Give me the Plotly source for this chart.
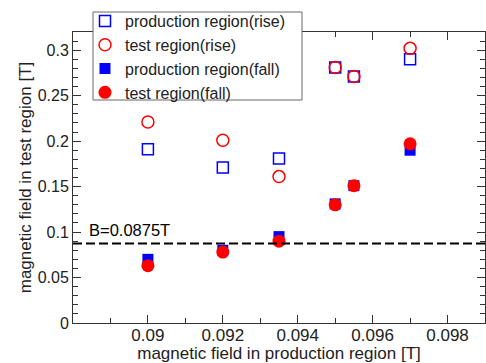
import plotly.graph_objects as go

x_vals = [0.09, 0.092, 0.0935, 0.095, 0.0955, 0.097]
prod_rise = [0.191, 0.171, 0.181, 0.281, 0.271, 0.290]
test_rise = [0.221, 0.201, 0.161, 0.281, 0.271, 0.302]
prod_fall = [0.070, 0.080, 0.095, 0.131, 0.151, 0.190]
test_fall = [0.063, 0.078, 0.090, 0.130, 0.151, 0.197]
names = ["production region(rise)", "test region(rise)",
         "production region(fall)", "test region(fall)"]
x_tickvals = [0.09, 0.092, 0.094, 0.096, 0.098]
b_line = 0.0875
b_label = "B=0.0875T"

FONT = "Liberation Sans, Arial, sans-serif"
W, H = 486, 363
ML, MR, MT, MB = 73, 1, 32, 40
PW, PH = W - ML - MR, H - MT - MB


def px_x(p):
    return (p - ML) / PW


def px_y(p):
    return (H - MB - p) / PH


fig = go.Figure()
fig.add_trace(go.Scatter(x=x_vals, y=prod_rise, mode="markers", name=names[0],
                         marker=dict(symbol="square-open", size=11, color="#0000ff",
                                     line=dict(width=1.5, color="#0000ff"))))
fig.add_trace(go.Scatter(x=x_vals, y=test_rise, mode="markers", name=names[1],
                         marker=dict(symbol="circle-open", size=12, color="#ff0000",
                                     line=dict(width=1.5, color="#ff0000"))))
fig.add_trace(go.Scatter(x=x_vals, y=prod_fall, mode="markers", name=names[2],
                         marker=dict(symbol="square", size=11, color="#0000ff")))
fig.add_trace(go.Scatter(x=x_vals, y=test_fall, mode="markers", name=names[3],
                         marker=dict(symbol="circle", size=13, color="#ff0000")))

fig.add_shape(type="line", xref="paper", x0=0, x1=1, yref="y", y0=b_line, y1=b_line,
              line=dict(color="black", width=2, dash="9px,4px"))
# legend frame
fig.add_shape(type="rect", xref="paper", yref="paper",
              x0=px_x(93), x1=px_x(302), y0=px_y(100), y1=px_y(12),
              fillcolor="white", line=dict(color="#666666", width=1), layer="above")
fig.add_annotation(x=0.08837, y=b_line, xref="x", yref="y", text=b_label, showarrow=False,
                   xanchor="left", yanchor="bottom", yshift=2,
                   font=dict(size=16.5, color="black", family=FONT))

axis_common = dict(showgrid=False, zeroline=False, showline=True, linecolor="#333333",
                   linewidth=1, mirror="ticks", ticks="inside", ticklen=8, tickcolor="#333333")
fig.update_xaxes(range=[0.088, 0.099], tickmode="array", tickvals=x_tickvals,
                 ticktext=[str(v) for v in x_tickvals], ticklabelstandoff=-3,
                 tickfont=dict(size=17, color="#222222", family=FONT),
                 minor=dict(tickmode="linear", tick0=0.088, dtick=0.001, ticks="inside",
                            ticklen=5, tickcolor="#333333"),
                 title=dict(text="magnetic field in production region [T]",
                            font=dict(size=17, color="#222222", family=FONT), standoff=3),
                 **axis_common)
fig.update_yaxes(range=[0, 0.32], dtick=0.05, tick0=0,
                 tickfont=dict(size=16, color="#222222", family=FONT),
                 minor=dict(dtick=0.01, ticks="inside", ticklen=5, tickcolor="#333333"),
                 title=dict(text="magnetic field in test region [T]",
                            font=dict(size=17, color="#222222", family=FONT), standoff=1),
                 **axis_common)

fig.update_layout(
    width=W, height=H,
    margin=dict(l=ML, r=MR, t=MT, b=MB, autoexpand=False),
    paper_bgcolor="white", plot_bgcolor="white",
    showlegend=True,
    legend=dict(x=px_x(85), y=px_y(4), xanchor="left", yanchor="top",
                bgcolor="rgba(0,0,0,0)", borderwidth=0,
                font=dict(size=16, color="#222222", family=FONT),
                tracegroupgap=0, itemwidth=30),
    font=dict(family=FONT),
)
fig.write_html("out.html", config={"displayModeBar": False},
               post_script="document.body.style.margin='0px';document.body.style.overflow='hidden';")
